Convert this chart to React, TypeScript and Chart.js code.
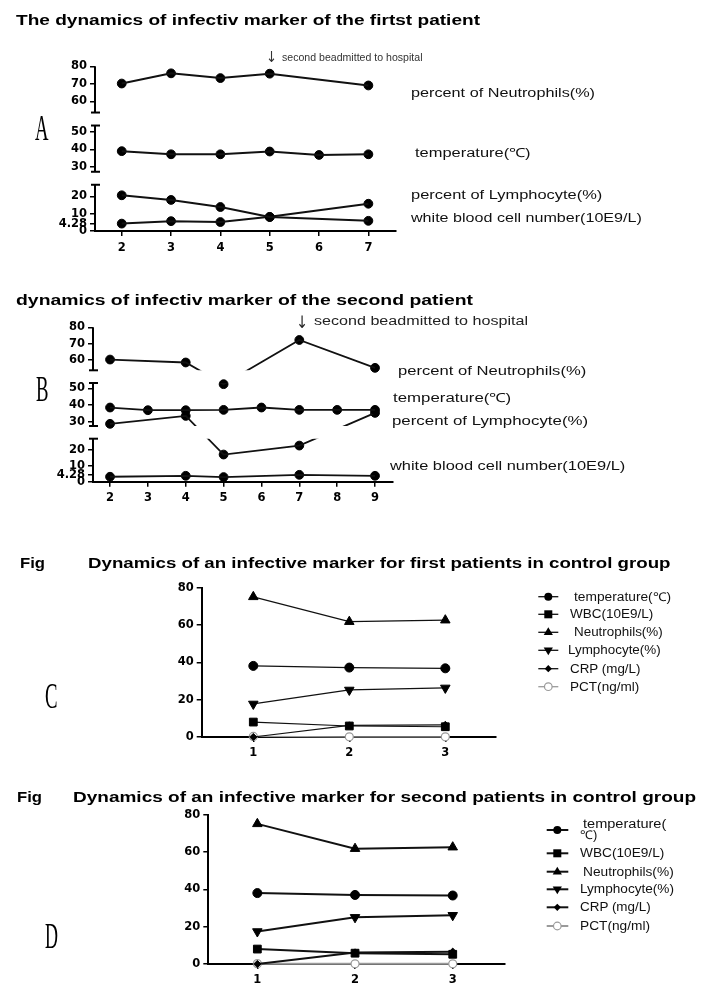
import React, { useEffect, useLayoutEffect, useRef, useState } from 'react';
import { Chart, registerables, LinearScale } from 'chart.js';

Chart.register(...registerables);

// ---------- DATA ----------
// Panel A (first patient)
const daysA = [2, 3, 4, 5, 6, 7];
const tempA = [38.9, 37.1, 37.1, 38.7, 36.7, 37.1];
const labDaysA = [2, 3, 4, 5, 7];
const neutA = [70.2, 76.0, 73.3, 75.8, 69.1];
const lymphA = [20.7, 18.0, 13.9, 8.1, 5.9];
const wbcA = [4.28, 5.7, 5.2, 8.2, 15.8];
const xTicksA = [2, 3, 4, 5, 6, 7];
const yTicksA = [0, 4.28, 10, 20, 30, 40, 50, 60, 70, 80];
const segmentsA = [0, 26.8, 27, 53.7, 53.7, 80];

// Panel B (second patient)
const daysB = [2, 3, 4, 5, 6, 7, 8, 9];
const tempB = [38.6, 37.0, 37.0, 37.2, 38.6, 37.2, 37.2, 37.2];
const labDaysB = [2, 4, 5, 7, 9];
const neutB = [60.2, 58.4, 52.5, 72.2, 55.1];
const lymphB = [28.9, 33.6, 17.0, 22.6, 35.4];
const wbcB = [3.1, 3.7, 2.9, 4.3, 3.7];
const xTicksB = [2, 3, 4, 5, 6, 7, 8, 9];
const yTicksB = [0, 4.28, 10, 20, 30, 40, 50, 60, 70, 80];
const segmentsB = [0, 26.9, 27.6, 53.2, 53.6, 80];

// Panel C (first control patient)
const visits = [1, 2, 3];
const tempC = [38.1, 37.2, 36.8];
const wbcC = [8.0, 5.9, 5.5];
const neutC = [75.1, 61.8, 62.6];
const lymphC = [17.7, 25.2, 26.3];
const crpC = [0, 6.2, 6.5];
const pctC = [0.3, 0.1, 0.1];

// Panel D (second control patient)
const tempD = [38.0, 37.0, 36.7];
const wbcD = [8.0, 5.8, 5.2];
const neutD = [75.1, 61.8, 62.6];
const lymphD = [17.4, 25.0, 26.1];
const crpD = [0, 6.2, 6.6];
const pctD = [0.2, 0.1, 0.1];

const controlLabels = ['temperature(℃)', 'WBC(10E9/L)', 'Neutrophils(%)', 'Lymphocyte(%)', 'CRP (mg/L)', 'PCT(ng/ml)'];

// ---------- BROKEN AXIS SCALE ----------
class BrokenLinearScale extends (LinearScale as any) {
  static id = 'brokenLinear';
  static defaults = (LinearScale as any).defaults;
  layoutSegs() {
    const o: any = (this as any).options;
    const segs: number[] = o.segments;
    const gap: number = o.gap;
    const n = segs.length / 2;
    const top = (this as any).top, bottom = (this as any).bottom;
    const segH = (bottom - top - gap * (n - 1)) / n;
    const out: any[] = [];
    for (let i = 0; i < n; i++) {
      const pb = bottom - i * (segH + gap);
      out.push({ min: segs[2 * i], max: segs[2 * i + 1], pb, pt: pb - segH });
    }
    return out;
  }
  getPixelForValue(value: number) {
    if (value === null || value === undefined || Number.isNaN(value)) return NaN;
    const L = this.layoutSegs();
    for (const s of L) {
      if (value >= s.min && value <= s.max) return s.pb - ((value - s.min) / (s.max - s.min)) * (s.pb - s.pt);
    }
    for (let i = 0; i < L.length - 1; i++) {
      const a = L[i], b = L[i + 1];
      if (value > a.max && value < b.min) return a.pt - ((value - a.max) / (b.min - a.max)) * (a.pt - b.pb);
    }
    const s = value < L[0].min ? L[0] : L[L.length - 1];
    return s.pb - ((value - s.min) / (s.max - s.min)) * (s.pb - s.pt);
  }
  getValueForPixel(pixel: number) {
    const L = this.layoutSegs();
    for (const s of L) {
      if (pixel <= s.pb && pixel >= s.pt) return s.min + ((s.pb - pixel) / (s.pb - s.pt)) * (s.max - s.min);
    }
    return NaN;
  }
}
Chart.register(BrokenLinearScale as any);

const brokenAxisPlugin = {
  id: 'brokenAxis',
  beforeDatasetDraw(chart: any, args: any) {
    const ds = chart.data.datasets[args.index];
    if (!ds.segClip) return;
    const y = chart.scales.y;
    const a = chart.chartArea;
    const ctx = chart.ctx;
    ctx.save();
    ctx.beginPath();
    for (const s of y.layoutSegs()) ctx.rect(a.left - 30, s.pt, a.right - a.left + 60, s.pb - s.pt);
    ctx.clip();
  },
  afterDatasetDraw(chart: any, args: any) {
    const ds = chart.data.datasets[args.index];
    if (ds.segClip) chart.ctx.restore();
  },
  beforeDatasetsDraw(chart: any) {
    const y = chart.scales.y;
    const ctx = chart.ctx;
    const x0 = chart.chartArea.left;
    const L = y.layoutSegs();
    ctx.save();
    ctx.strokeStyle = '#000';
    ctx.lineWidth = 2;
    L.forEach((s: any, i: number) => {
      ctx.beginPath();
      ctx.moveTo(x0, s.pb + (i === 0 ? 1 : 0));
      ctx.lineTo(x0, s.pt);
      ctx.stroke();
      if (i > 0) {
        ctx.beginPath();
        ctx.moveTo(x0 - 4, s.pb);
        ctx.lineTo(x0 + 5, s.pb);
        ctx.stroke();
      }
      if (i < L.length - 1) {
        ctx.beginPath();
        ctx.moveTo(x0 - 4, s.pt);
        ctx.lineTo(x0 + 5, s.pt);
        ctx.stroke();
      }
    });
    ctx.restore();
  },
};

const tickFont = { family: '"DejaVu Sans", sans-serif', weight: 'bold' as const, size: 11.5 };

function pts(xs: number[], ys: number[]) {
  return xs.map((x, i) => ({ x, y: ys[i] }));
}

function brokenSeries(xs: number[], ys: number[], lw: number) {
  return [
    { data: pts(xs, ys), segClip: true, borderColor: '#111', borderWidth: lw, pointRadius: 0, fill: false, tension: 0 },
    { data: pts(xs, ys), showLine: false, pointRadius: 4.4, pointBackgroundColor: '#000', pointBorderColor: '#000', pointBorderWidth: 1, clip: false },
  ];
}

type Area = { L: number; T: number; R: number; B: number; top: number; h: number };

function brokenConfig(area: Area, datasets: any[], xmin: number, xmax: number, xTicks: number[], yTicks: number[], segments: number[], gap: number, xPad: number): any {
  const yW = 60, xH = 25;
  return {
    type: 'line',
    data: { datasets },
    plugins: [brokenAxisPlugin],
    options: {
      animation: false,
      responsive: false,
      events: [],
      layout: { padding: { left: area.L - yW, top: area.T - area.top, right: 720 - area.R, bottom: area.top + area.h - area.B - xH } },
      plugins: { legend: { display: false }, tooltip: { enabled: false }, title: { display: false } },
      scales: {
        x: {
          type: 'linear', min: xmin, max: xmax,
          afterBuildTicks: (s: any) => { s.ticks = xTicks.map((v) => ({ value: v })); },
          afterFit: (s: any) => { s.height = xH; },
          border: { display: true, color: '#000', width: 2 },
          grid: { display: true, drawOnChartArea: false, drawTicks: true, tickLength: 5, color: '#000', lineWidth: 1.5 },
          ticks: { autoSkip: false, maxRotation: 0, padding: xPad, color: '#000', font: tickFont, callback: (v: any) => String(v) },
        },
        y: {
          type: 'brokenLinear', min: 0, max: 80, segments, gap,
          afterBuildTicks: (s: any) => { s.ticks = yTicks.map((v) => ({ value: v })); },
          afterFit: (s: any) => { s.width = yW; },
          border: { display: false },
          grid: { display: true, drawOnChartArea: false, drawTicks: true, tickLength: 5, color: '#000', lineWidth: 1.5 },
          ticks: { autoSkip: false, padding: 3, color: '#000', font: tickFont, callback: (v: any) => String(v) },
        },
      },
    },
  };
}

function controlDatasets(t: number[], w: number[], n: number[], l: number[], c: number[], p: number[], lw: number) {
  const base = { borderColor: '#111', borderWidth: lw, pointBackgroundColor: '#000', pointBorderColor: '#000', pointBorderWidth: 1, fill: false, tension: 0, clip: false };
  return [
    { ...base, label: controlLabels[0], data: pts(visits, t), pointStyle: 'circle', pointRadius: 4.5 },
    { ...base, label: controlLabels[1], data: pts(visits, w), pointStyle: 'rect', pointRadius: 5.5 },
    { ...base, label: controlLabels[2], data: pts(visits, n), pointStyle: 'triangle', pointRadius: 5.5 },
    { ...base, label: controlLabels[3], data: pts(visits, l), pointStyle: 'triangle', pointRotation: 180, pointRadius: 5.5 },
    { ...base, label: controlLabels[4], data: pts(visits, c), pointStyle: 'rectRot', pointRadius: 3.6 },
    { ...base, label: controlLabels[5], data: pts(visits, p), pointStyle: 'circle', pointRadius: 4, borderColor: '#9a9a9a', pointBackgroundColor: '#fff', pointBorderColor: '#9a9a9a', pointBorderWidth: 1.2 },
  ];
}

function controlConfig(area: Area, datasets: any[], xmin: number, xmax: number, xPad: number): any {
  const yW = 60, xH = 25;
  return {
    type: 'line',
    data: { datasets },
    options: {
      animation: false,
      responsive: false,
      events: [],
      layout: { padding: { left: area.L - yW, top: area.T - area.top, right: 720 - area.R, bottom: area.top + area.h - area.B - xH } },
      plugins: { legend: { display: false }, tooltip: { enabled: false }, title: { display: false } },
      scales: {
        x: {
          type: 'linear', min: xmin, max: xmax,
          afterBuildTicks: (s: any) => { s.ticks = visits.map((v) => ({ value: v })); },
          afterFit: (s: any) => { s.height = xH; },
          border: { display: true, color: '#000', width: 2 },
          grid: { display: true, drawOnChartArea: false, drawTicks: true, tickLength: 5, color: '#000', lineWidth: 1.5 },
          ticks: { autoSkip: false, maxRotation: 0, padding: xPad, color: '#000', font: tickFont, callback: (v: any) => String(v) },
        },
        y: {
          type: 'linear', min: 0, max: 80,
          ticks: { stepSize: 20, padding: 3, color: '#000', font: tickFont },
          afterFit: (s: any) => { s.width = yW; },
          border: { display: true, color: '#000', width: 2 },
          grid: { display: true, drawOnChartArea: false, drawTicks: true, tickLength: 5, color: '#000', lineWidth: 1.5 },
        },
      },
    },
  };
}

function ChartBox({ area, make }: { area: Area; make: () => any }) {
  const ref = useRef<HTMLCanvasElement>(null);
  useEffect(() => {
    const ch = new Chart(ref.current as HTMLCanvasElement, make());
    return () => ch.destroy();
  }, []);
  return (
    <div style={{ position: 'absolute', left: 0, top: area.top, width: 720, height: area.h }}>
      <canvas ref={ref} width={720} height={area.h} style={{ width: 720, height: area.h, display: 'block' }} />
    </div>
  );
}

const SANS = '"Liberation Sans", Arial, sans-serif';
const SERIF = '"Liberation Serif", "DejaVu Serif", serif';
const ARROW = '"DejaVu Sans", sans-serif';

function Txt({ x, base, size, text, w, bold, family, color, asc }: any) {
  const fam = family || SANS;
  const [k, setK] = useState(1);
  useLayoutEffect(() => {
    if (!w) return;
    const c = document.createElement('canvas').getContext('2d') as CanvasRenderingContext2D;
    c.font = `${bold ? 'bold ' : ''}${size}px ${fam}`;
    const m = c.measureText(text).width;
    if (m > 0) setK(w / m);
  }, [text, w, size, bold, fam]);
  const a = asc ?? (fam === SERIF ? 0.8375 : 0.8465);
  return (
    <div style={{ position: 'absolute', left: x, top: base - a * size, fontFamily: fam, fontSize: size, fontWeight: bold ? 'bold' : 'normal', lineHeight: `${size}px`, whiteSpace: 'pre', color: color || '#000', transform: `scaleX(${k})`, transformOrigin: '0 0' }}>
      {text}
    </div>
  );
}

function Marker({ kind, cx, cy }: { kind: number; cx: number; cy: number }) {
  if (kind === 0) return <circle cx={cx} cy={cy} r={4} fill="#000" />;
  if (kind === 1) return <rect x={cx - 4} y={cy - 4} width={8} height={8} fill="#000" />;
  if (kind === 2) return <polygon points={`${cx},${cy - 5} ${cx + 4.6},${cy + 2.8} ${cx - 4.6},${cy + 2.8}`} fill="#000" />;
  if (kind === 3) return <polygon points={`${cx},${cy + 5} ${cx + 4.6},${cy - 2.8} ${cx - 4.6},${cy - 2.8}`} fill="#000" />;
  if (kind === 4) return <polygon points={`${cx},${cy - 3.6} ${cx + 3.6},${cy} ${cx},${cy + 3.6} ${cx - 3.6},${cy}`} fill="#000" />;
  return <circle cx={cx} cy={cy} r={3.8} fill="#fff" stroke="#9a9a9a" strokeWidth={1.2} />;
}

const areaA: Area = { L: 95, T: 66.3, R: 396, B: 231, top: 40, h: 225 };
const areaB: Area = { L: 93, T: 327.3, R: 393, B: 481.7, top: 305, h: 205 };
const areaC: Area = { L: 201.7, T: 587.7, R: 496, B: 737, top: 570, h: 200 };
const areaD: Area = { L: 208.3, T: 814.7, R: 505, B: 964, top: 795, h: 208 };

const legendC = { rows: [596.7, 614.3, 632.3, 650.3, 668.7, 686.7], x1: 538.3, x2: 558.3, mx: 548.3, lw: 1.3 };
const legendD = { rows: [830, 853.3, 871.7, 889.3, 907.3, 926], x1: 546.7, x2: 568.3, mx: 557.3, lw: 2 };

export default function App() {
  const dsA = [
    ...brokenSeries(labDaysA, neutA, 2),
    ...brokenSeries(daysA, tempA, 2),
    ...brokenSeries(labDaysA, lymphA, 2),
    ...brokenSeries(labDaysA, wbcA, 2),
  ];
  const dsB = [
    ...brokenSeries(labDaysB, neutB, 1.8),
    ...brokenSeries(daysB, tempB, 1.8),
    ...brokenSeries(labDaysB, lymphB, 1.8),
    ...brokenSeries(labDaysB, wbcB, 1.8),
  ];
  const legends = [legendC, legendD];
  return (
    <div style={{ position: 'absolute', left: 0, top: 0, width: 720, height: 1003, background: '#fff', overflow: 'hidden', fontFamily: SANS }}>
      <ChartBox area={areaA} make={() => brokenConfig(areaA, dsA, 1.458, 7.56, xTicksA, yTicksA, segmentsA, 13, 5)} />
      <ChartBox area={areaB} make={() => brokenConfig(areaB, dsB, 1.55, 9.475, xTicksB, yTicksB, segmentsB, 12.7, 4)} />
      <ChartBox area={areaC} make={() => controlConfig(areaC, controlDatasets(tempC, wbcC, neutC, lymphC, crpC, pctC, 1.2), 0.4625, 3.528, 4)} />
      <ChartBox area={areaD} make={() => controlConfig(areaD, controlDatasets(tempD, wbcD, neutD, lymphD, crpD, pctD, 2), 0.498, 3.535, 4)} />

      <svg width={720} height={1003} style={{ position: 'absolute', left: 0, top: 0, pointerEvents: 'none' }}>
        {legends.map((lg, li) =>
          lg.rows.map((y, i) => (
            <g key={`${li}-${i}`}>
              <line x1={lg.x1} x2={lg.x2} y1={y} y2={y} stroke={i === 5 ? '#9a9a9a' : '#111'} strokeWidth={lg.lw} />
              <Marker kind={i} cx={lg.mx} cy={y} />
            </g>
          ))
        )}
      </svg>

      {/* Titles */}
      <Txt x={16} base={25.5} size={15.5} bold text="The dynamics of infectiv marker of the firtst patient" w={464} />
      <Txt x={16} base={305.5} size={15.5} bold text="dynamics of infectiv marker of the second patient" w={457} />
      <Txt x={20} base={568} size={15} bold text="Fig" w={25} />
      <Txt x={87.5} base={568} size={15} bold text="Dynamics of an infective marker for first patients in control group" w={582.5} />
      <Txt x={17} base={802.5} size={15.5} bold text="Fig" w={25} />
      <Txt x={72.7} base={802.5} size={15.5} bold text="Dynamics of an infective marker for second patients in control group" w={623} />

      {/* Panel letters */}
      <Txt x={35} base={140} size={36} family={SERIF} text="A" w={13.5} />
      <Txt x={36} base={401} size={36} family={SERIF} text="B" w={12.5} />
      <Txt x={45} base={708} size={36} family={SERIF} text="C" w={12.5} />
      <Txt x={45} base={948} size={36} family={SERIF} text="D" w={13} />

      {/* Annotations */}
      <Txt x={266} base={63} size={15} family={ARROW} text="↓" w={11} color="#333" />
      <Txt x={281.5} base={61.1} size={10.7} text="second beadmitted to hospital" w={140.5} color="#333" />
      <Txt x={296} base={328} size={17} family={ARROW} text="↓" w={12} color="#222" />
      <Txt x={314} base={325} size={12} text="second beadmitted to hospital" w={214} color="#222" />

      {/* Right-hand labels A */}
      <Txt x={410.7} base={97.4} size={12.5} text="percent of Neutrophils(%)" w={184} color="#111" />
      <Txt x={415.3} base={157.4} size={12.5} text="temperature(℃)" w={115.4} color="#111" />
      <Txt x={410.7} base={199.1} size={12.5} text="percent of Lymphocyte(%)" w={191.3} color="#111" />
      <Txt x={410.7} base={222.4} size={12.5} text="white blood cell number(10E9/L)" w={230.8} color="#111" />

      {/* Right-hand labels B */}
      <Txt x={397.8} base={375.1} size={12.5} text="percent of Neutrophils(%)" w={188.2} color="#111" />
      <Txt x={393.2} base={402.4} size={12.5} text="temperature(℃)" w={118.1} color="#111" />
      <Txt x={392.3} base={425.1} size={12.5} text="percent of Lymphocyte(%)" w={196.1} color="#111" />
      <Txt x={390} base={470.8} size={12.5} text="white blood cell number(10E9/L)" w={235.3} color="#111" />

      {/* Legend C */}
      <Txt x={574} base={600.9} size={12} text={controlLabels[0]} w={97} color="#111" />
      <Txt x={570} base={618.5} size={12} text={controlLabels[1]} w={83.3} color="#111" />
      <Txt x={574} base={636.5} size={12} text={controlLabels[2]} w={88.7} color="#111" />
      <Txt x={568.3} base={654.5} size={12} text={controlLabels[3]} w={92.7} color="#111" />
      <Txt x={570} base={672.9} size={12} text={controlLabels[4]} w={70.7} color="#111" />
      <Txt x={570} base={690.9} size={12} text={controlLabels[5]} w={69.3} color="#111" />

      {/* Legend D */}
      <Txt x={583.3} base={828.2} size={12} text="temperature(" w={83.3} color="#111" />
      <Txt x={580} base={839.2} size={12} text="℃)" w={17.3} color="#111" />
      <Txt x={580} base={857.5} size={12} text={controlLabels[1]} w={84.3} color="#111" />
      <Txt x={583.3} base={875.9} size={12} text={controlLabels[2]} w={90.7} color="#111" />
      <Txt x={580} base={893.5} size={12} text={controlLabels[3]} w={94} color="#111" />
      <Txt x={580} base={911.5} size={12} text={controlLabels[4]} w={71} color="#111" />
      <Txt x={580} base={930.2} size={12} text={controlLabels[5]} w={70} color="#111" />
    </div>
  );
}
